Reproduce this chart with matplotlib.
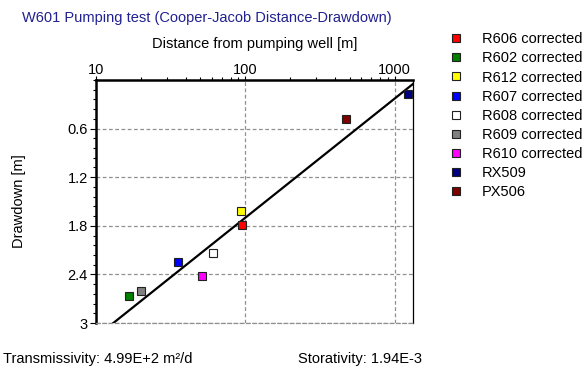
import numpy as np
import matplotlib.pyplot as plt
from matplotlib.ticker import FixedLocator, LogLocator, NullFormatter, MultipleLocator

plt.rcParams["font.family"] = ["Liberation Sans", "DejaVu Sans"]
plt.rcParams["font.size"] = 10.5

# Observation wells: distance from pumping well [m] and drawdown [m]
wells = ["R606 corrected", "R602 corrected", "R612 corrected", "R607 corrected",
         "R608 corrected", "R609 corrected", "R610 corrected", "RX509", "PX506"]
distance = [95, 16.6, 94, 35.3, 61, 20, 51.2, 1228, 470]
drawdown = [1.79, 2.67, 1.62, 2.25, 2.14, 2.61, 2.42, 0.17, 0.48]
colors = ["#ff0000", "#007f00", "#ffff00", "#0000ff", "#ffffff",
          "#808080", "#ff00ff", "#000080", "#800000"]

# Cooper-Jacob straight line: s = slope * log10(r0 / r)
slope_per_decade = 1.47
r0 = 1435.0

transmissivity = "4.99E+2"
storativity = "1.94E-3"

fig = plt.figure(figsize=(5.84, 3.72), dpi=100)
ax = fig.add_axes([0.1644, 0.1317, 0.5428, 0.6532])

x_min, x_max = 10, 1330
r = np.logspace(np.log10(x_min), np.log10(x_max), 200)
ax.plot(r, slope_per_decade * np.log10(r0 / r), color="black", lw=1.6, zorder=3)

for name, d, s, c in zip(wells, distance, drawdown, colors):
    ax.plot(d, s, ls="none", marker="s", ms=6, mfc=c, mec="#202020",
            mew=0.8, label=name, zorder=4)

ax.set_xscale("log")
ax.set_xlim(x_min, x_max)
ax.set_ylim(3, 0)

ax.xaxis.set_ticks_position("top")
ax.xaxis.set_label_position("top")
ax.set_xticks([10, 100, 1000])
ax.set_xticklabels(["10", "100", "1000"])
ax.xaxis.set_minor_locator(LogLocator(base=10, subs=np.arange(2, 10)))
ax.xaxis.set_minor_formatter(NullFormatter())
ax.set_xlabel("Distance from pumping well [m]", labelpad=11)

ax.yaxis.set_major_locator(FixedLocator([0.6, 1.2, 1.8, 2.4, 3]))
ax.set_yticklabels(["0.6", "1.2", "1.8", "2.4", "3"])
ax.yaxis.set_minor_locator(MultipleLocator(0.12))
ax.set_ylabel("Drawdown [m]", labelpad=30)

ax.tick_params(axis="y", which="major", direction="out", length=4, width=0.8, pad=2)
ax.tick_params(axis="y", which="minor", direction="out", length=2.5, width=0.8)
ax.tick_params(axis="x", which="major", direction="out", length=3, width=0.8, pad=-1)
ax.tick_params(axis="x", which="minor", direction="out", length=2, width=0.8)

ax.grid(True, which="major", color="#909090", ls=(0, (3, 2)), lw=0.9)

ax.spines["top"].set_linewidth(1.8)
ax.spines["left"].set_linewidth(1.8)
ax.spines["right"].set_linewidth(0.9)
ax.spines["bottom"].set_color("#909090")
ax.spines["bottom"].set_linestyle((0, (3, 2)))
ax.spines["bottom"].set_linewidth(0.9)

fig.text(0.038, 0.951, "W601 Pumping test (Cooper-Jacob Distance-Drawdown)",
         color="#202090", va="center", ha="left")

ax.legend(loc="upper left", bbox_to_anchor=(0.768, 0.913),
          bbox_transform=fig.transFigure, frameon=False, handlelength=1.0,
          handletextpad=1.3, labelspacing=0.35, borderpad=0, borderaxespad=0)

fig.text(0.005, 0.035, f"Transmissivity: {transmissivity} m²/d", va="center")
fig.text(0.51, 0.035, f"Storativity: {storativity}", va="center")

fig.savefig("out.png", dpi=100)
